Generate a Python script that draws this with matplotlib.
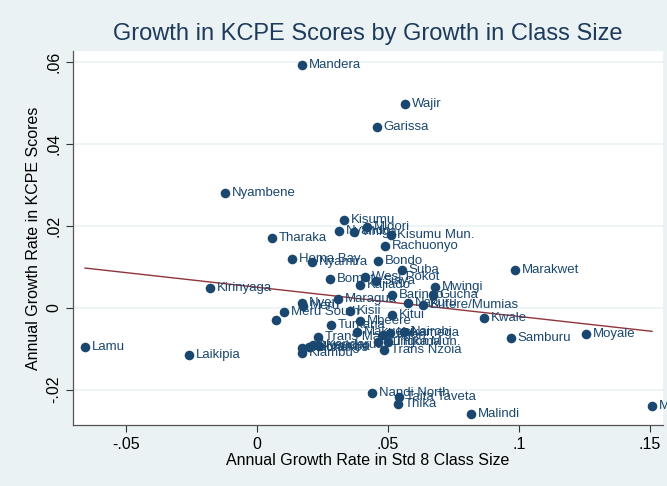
import numpy as np
import matplotlib
matplotlib.use("Agg")
import matplotlib.pyplot as plt

# ==================== DATA ====================
districts = [
    "Mandera", "Wajir", "Garissa", "Nyambene", "Kisumu", "Tharaka",
    "Nyando", "Vihiga", "Migori", "Kisumu Mun.", "Rachuonyo", "Homa Bay",
    "Nyamira", "Bondo", "Suba", "Marakwet", "Bomet", "West Pokot",
    "Siaya", "Kajiado", "Mwingi", "Gucha", "Baringo", "Kirinyaga",
    "Maragua", "Nyeri", "Meru", "Nakuru", "Butere/Mumias", "Kisii",
    "Meru South", "", "Kitui", "Kwale", "Mbeere", "Turkana",
    "Nairobi", "Makueni", "Kakamega", "Lugari", "Trans Mara", "Moyale",
    "Samburu", "Bungoma", "Thika Mun.", "Trans Nzoia", "Lamu", "Machakos",
    "Kiambu", "Murang'a", "Nyandarua", "Kericho", "Laikipia", "Nandi North",
    "Taita Taveta", "Thika", "Malindi", "Marsabit",
]
class_growth = [
    0.0172, 0.0565, 0.0458, -0.0122, 0.0332, 0.0057,
    0.0313, 0.0370, 0.0420, 0.0511, 0.0489, 0.0134,
    0.0210, 0.0462, 0.0553, 0.0985, 0.0279, 0.0412,
    0.0454, 0.0393, 0.0679, 0.0672, 0.0515, -0.0179,
    0.0309, 0.0172, 0.0176, 0.0576, 0.0634, 0.0355,
    0.0103, 0.0073, 0.0515, 0.0866, 0.0393, 0.0282,
    0.0561, 0.0382, 0.0508, 0.0481, 0.0233, 0.1256,
    0.0969, 0.0462, 0.0500, 0.0485, -0.0656, 0.0172,
    0.0172, 0.0198, 0.0214, 0.0237, -0.0260, 0.0439,
    0.0542, 0.0538, 0.0817, 0.1508,
]
score_growth = [
    0.0592, 0.0497, 0.0441, 0.0280, 0.0214, 0.0170,
    0.0187, 0.0185, 0.0197, 0.0177, 0.0150, 0.0119,
    0.0111, 0.0114, 0.0092, 0.0092, 0.0070, 0.0075,
    0.0065, 0.0055, 0.0050, 0.0031, 0.0031, 0.0048,
    0.0021, 0.0011, 0.0004, 0.0011, 0.0007, -0.0008,
    -0.0010, -0.0030, -0.0018, -0.0025, -0.0032, -0.0042,
    -0.0059, -0.0059, -0.0062, -0.0067, -0.0071, -0.0064,
    -0.0074, -0.0084, -0.0084, -0.0103, -0.0096, -0.0098,
    -0.0110, -0.0096, -0.0091, -0.0093, -0.0115, -0.0208,
    -0.0218, -0.0235, -0.0259, -0.0240,
]

# fitted line
fit_intercept = 0.0050
fit_slope = -0.0713

x_ticks = [-0.05, 0, 0.05, 0.10, 0.15]
x_ticklabels = ["-.05", "0", ".05", ".1", ".15"]
y_ticks = [-0.02, 0, 0.02, 0.04, 0.06]
y_ticklabels = ["-.02", "0", ".02", ".04", ".06"]

# ==================== STYLE ====================
BG = "#EAF2F3"
NAVY = "#1A476F"
MAROON = "#90353B"
plt.rcParams["font.family"] = ["Liberation Sans", "DejaVu Sans"]

fig = plt.figure(figsize=(6.67, 4.86), dpi=100, facecolor=BG)
ax = fig.add_axes([0.1094, 0.1255, 0.8846, 0.7695])
ax.set_facecolor("white")

x = np.array(class_growth)
y = np.array(score_growth)

# grid
for yt in y_ticks:
    ax.axhline(yt, color=BG, lw=1.2, zorder=0)

ax.scatter(x, y, s=48, color=NAVY, zorder=3, linewidths=0)
for name, xi, yi in zip(districts, x, y):
    if name:
        ax.annotate(name, (xi, yi), xytext=(4.8, 0), textcoords="offset points",
                    va="center", ha="left", fontsize=9.5, color=NAVY,
                    zorder=4, annotation_clip=False)

# linear fit
fx = np.array([x.min(), x.max()])
ax.plot(fx, fit_intercept + fit_slope * fx, color=MAROON, lw=1, zorder=2)

ax.set_xlim(-0.0702, 0.155)
ax.set_ylim(-0.0286, 0.0626)
ax.set_xticks(x_ticks)
ax.set_xticklabels(x_ticklabels)
ax.set_yticks(y_ticks)
ax.set_yticklabels(y_ticklabels, rotation=90, va="center")
ax.tick_params(labelsize=11.5, colors="#333333", length=5, labelcolor="black")

for side in ["top", "right"]:
    ax.spines[side].set_visible(False)
for side in ["left", "bottom"]:
    ax.spines[side].set_color("#555555")
    ax.spines[side].set_linewidth(0.9)

ax.set_xlabel("Annual Growth Rate in Std 8 Class Size", fontsize=11.5, labelpad=1)
ax.set_ylabel("Annual Growth Rate in KCPE Scores", fontsize=11.5, labelpad=4)
fig.text(0.552, 0.93, "Growth in KCPE Scores by Growth in Class Size",
         ha="center", va="center", fontsize=17, color="#1E3A5C")

fig.savefig("out.png", dpi=100, facecolor=BG)
